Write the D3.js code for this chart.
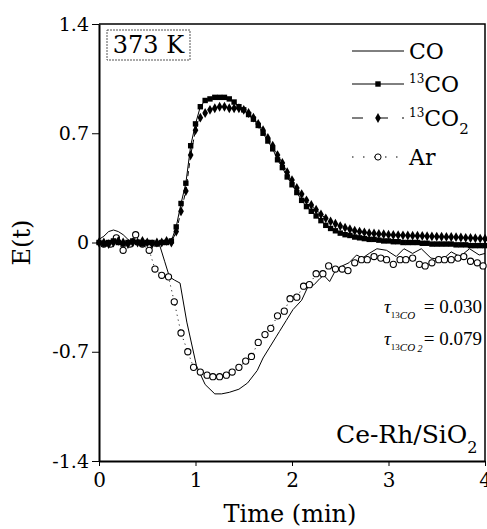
<!DOCTYPE html>
<html lang="en">
<head>
<meta charset="utf-8">
<title>E(t) | 373 K Ce-Rh/SiO2</title>
<style>
body { margin: 0; background: #fff; }
svg text { font-family: "DejaVu Serif", "Liberation Serif", serif; fill: #000; }
.axis path, .axis line { stroke: #000; }
</style>
<script src="https://d3js.org/d3.v7.min.js"></script>
</head>
<body>
<svg id="chart" width="487" height="529"></svg>
<script>
// ---- data ----
var xTicks = [0, 1, 2, 3, 4];
var yTicks = [1.4, 0.7, 0, -0.7, -1.4];
var yTickLabels = ["1.4", "0.7", "0", "-0.7", "-1.4"];

// 13CO and 13CO2 share a sampling grid (min)
var tIso = [0.00,0.05,0.10,0.15,0.20,0.25,0.30,0.35,0.40,0.45,0.50,0.55,0.60,0.65,0.70,0.75,
  0.80,0.85,0.90,0.95,1.00,1.05,1.10,1.15,1.20,1.25,1.30,1.35,1.40,1.45,1.50,1.55,1.60,1.65,
  1.70,1.75,1.80,1.85,1.90,1.95,2.00,2.05,2.10,2.15,2.20,2.25,2.30,2.35,2.40,2.45,2.50,2.55,
  2.60,2.65,2.70,2.75,2.80,2.85,2.90,2.95,3.00,3.05,3.10,3.15,3.20,3.25,3.30,3.35,3.40,3.45,
  3.50,3.55,3.60,3.65,3.70,3.75,3.80,3.85,3.90,3.95,4.00];

var co13 = [0.00,-0.01,0.00,0.01,0.00,-0.01,0.00,0.01,0.00,-0.01,0.00,0.00,-0.01,0.00,0.00,0.01,
  0.10,0.25,0.38,0.62,0.76,0.87,0.91,0.92,0.93,0.93,0.93,0.92,0.90,0.87,0.85,0.82,0.79,0.75,
  0.70,0.65,0.60,0.53,0.48,0.42,0.37,0.32,0.27,0.23,0.20,0.17,0.14,0.11,0.09,0.075,0.06,0.05,
  0.045,0.035,0.03,0.025,0.02,0.02,0.015,0.01,0.01,0.005,0.005,0.00,0.00,0.00,0.00,-0.005,-0.005,-0.01,
  -0.01,-0.01,-0.01,-0.01,-0.015,-0.015,-0.015,-0.02,-0.02,-0.02,-0.02];

var co2_13 = [0.00,0.00,-0.01,0.00,0.01,0.00,-0.01,0.00,0.00,0.01,0.00,-0.01,0.00,0.00,0.01,0.00,
  0.07,0.20,0.33,0.56,0.72,0.80,0.83,0.85,0.86,0.87,0.87,0.86,0.86,0.86,0.85,0.83,0.80,0.76,
  0.72,0.67,0.62,0.56,0.51,0.45,0.40,0.35,0.31,0.27,0.24,0.21,0.18,0.155,0.135,0.12,0.105,0.095,
  0.085,0.075,0.07,0.065,0.06,0.058,0.055,0.053,0.05,0.048,0.047,0.046,0.045,0.044,0.043,0.042,0.04,0.039,
  0.038,0.037,0.036,0.035,0.034,0.032,0.03,0.029,0.027,0.025,0.024];

// CO trace (solid line)
var tCO = [0.00,0.05,0.10,0.15,0.20,0.25,0.30,0.35,0.40,0.50,0.60,0.63,0.68,0.73,0.78,0.84,0.91,
  1.01,1.10,1.20,1.27,1.35,1.45,1.54,1.64,1.70,1.77,1.84,1.87,1.94,2.01,2.10,2.16,2.23,2.29,2.33,
  2.39,2.45,2.52,2.59,2.67,2.73,2.80,2.88,2.98,3.08,3.16,3.25,3.34,3.44,3.56,3.65,3.74,3.84,3.94,4.00];
var coVals = [0.02,0.04,0.07,0.08,0.07,0.05,0.02,0.00,0.00,-0.005,-0.01,-0.02,-0.12,-0.22,-0.24,-0.26,-0.51,
  -0.79,-0.91,-0.97,-0.97,-0.96,-0.94,-0.90,-0.82,-0.74,-0.67,-0.60,-0.57,-0.50,-0.43,-0.37,-0.29,-0.27,-0.23,-0.21,
  -0.25,-0.18,-0.15,-0.13,-0.08,-0.10,-0.07,-0.04,-0.05,-0.09,-0.04,-0.07,-0.04,-0.10,-0.11,-0.06,-0.09,-0.04,-0.08,-0.07];

// Ar tracer (open circles)
var tAr = [0.05,0.12,0.18,0.25,0.32,0.38,0.45,0.52,0.58,0.65,0.72,0.78,0.85,0.92,0.98,1.05,1.12,1.18,
  1.25,1.32,1.38,1.45,1.52,1.58,1.65,1.72,1.78,1.85,1.92,1.98,2.05,2.12,2.18,2.25,2.32,2.38,2.45,2.52,
  2.58,2.65,2.72,2.78,2.85,2.92,2.98,3.05,3.12,3.18,3.25,3.32,3.38,3.45,3.52,3.58,3.65,3.72,3.78,3.85,3.92,3.98];
var arVals = [-0.01,-0.01,0.03,-0.05,-0.01,0.05,-0.01,-0.05,-0.17,-0.21,-0.22,-0.38,-0.58,-0.70,-0.80,-0.83,-0.85,-0.86,
  -0.86,-0.85,-0.83,-0.80,-0.76,-0.73,-0.64,-0.59,-0.55,-0.47,-0.44,-0.36,-0.35,-0.28,-0.27,-0.20,-0.20,-0.15,-0.17,-0.17,
  -0.18,-0.13,-0.11,-0.11,-0.09,-0.10,-0.11,-0.14,-0.11,-0.11,-0.10,-0.14,-0.15,-0.13,-0.11,-0.11,-0.11,-0.10,-0.09,-0.12,-0.13,-0.15];

// ---- layout ----
var svg = d3.select('#chart');
var mLeft = 99, mRight = 485, mTop = 24, mBottom = 461;

var x = d3.scaleLinear().domain([0, 4]).range([mLeft, mRight]);
var y = d3.scaleLinear().domain([-1.4, 1.4]).range([mBottom, mTop]);

function zip(ts, vs) {
  return ts.map(function(t, i) { return [t, vs[i]]; });
}
var line = d3.line().x(function(d) { return x(d[0]); }).y(function(d) { return y(d[1]); });

var plot = svg.append('g');

// frame (top and right)
plot.append('path')
  .attr('d', 'M' + mLeft + ',' + mTop + 'H' + mRight + 'V' + mBottom)
  .attr('fill', 'none').attr('stroke', '#000').attr('stroke-width', 1.5);

// CO solid thin line
plot.append('path').datum(zip(tCO, coVals))
  .attr('d', line).attr('fill', 'none').attr('stroke', '#000').attr('stroke-width', 1);

// Ar dotted line + open circles
var arData = zip(tAr, arVals);
plot.append('path').datum(arData)
  .attr('d', line).attr('fill', 'none').attr('stroke', '#000').attr('stroke-width', 1)
  .attr('stroke-dasharray', '1,4');
plot.selectAll('circle.ar').data(arData).enter().append('circle')
  .attr('class', 'ar')
  .attr('cx', function(d) { return x(d[0]); })
  .attr('cy', function(d) { return y(d[1]); })
  .attr('r', 3.1)
  .attr('fill', '#fff').attr('stroke', '#000').attr('stroke-width', 1.1);

// 13CO2 dashed line + diamonds
var c2Data = zip(tIso, co2_13);
plot.append('path').datum(c2Data)
  .attr('d', line).attr('fill', 'none').attr('stroke', '#000').attr('stroke-width', 1)
  .attr('stroke-dasharray', '5,3');
plot.selectAll('path.dia').data(c2Data).enter().append('path')
  .attr('class', 'dia')
  .attr('d', d3.symbol().type(d3.symbolDiamond).size(28))
  .attr('transform', function(d) { return 'translate(' + x(d[0]) + ',' + y(d[1]) + ')'; })
  .attr('fill', '#000');

// 13CO solid line + squares
var c13Data = zip(tIso, co13);
plot.append('path').datum(c13Data)
  .attr('d', line).attr('fill', 'none').attr('stroke', '#000').attr('stroke-width', 1);
plot.selectAll('rect.sq').data(c13Data).enter().append('rect')
  .attr('class', 'sq')
  .attr('x', function(d) { return x(d[0]) - 2.7; })
  .attr('y', function(d) { return y(d[1]) - 2.7; })
  .attr('width', 5.4).attr('height', 5.4)
  .attr('fill', '#000');

// axes
var xAxis = svg.append('g').attr('class', 'axis')
  .attr('transform', 'translate(0,' + mBottom + ')')
  .call(d3.axisBottom(x).tickValues(xTicks).tickFormat(d3.format('d')).tickSize(5).tickSizeOuter(0));
xAxis.select('.domain').attr('stroke-width', 2);
xAxis.selectAll('text').attr('font-size', 20).attr('y', 7).attr('dy', '0.95em');

var yAxis = svg.append('g').attr('class', 'axis')
  .attr('transform', 'translate(' + mLeft + ',0)')
  .call(d3.axisLeft(y).tickValues(yTicks)
    .tickFormat(function(d, i) { return yTickLabels[i]; }).tickSize(7).tickSizeOuter(0));
yAxis.select('.domain').attr('stroke-width', 2);
yAxis.selectAll('text').attr('font-size', 19).attr('x', -10);
svg.selectAll('.axis text').style('font-family', '"DejaVu Serif", serif').attr('fill', '#000');

svg.append('text').attr('x', 290).attr('y', 522).attr('text-anchor', 'middle')
  .attr('font-size', 24).text('Time (min)');
svg.append('text').attr('transform', 'translate(30,' + y(0) + ') rotate(-90)')
  .attr('text-anchor', 'middle').attr('font-size', 24).text('E(t)');

// temperature box
svg.append('rect').attr('x', 107).attr('y', 30).attr('width', 83).attr('height', 30)
  .attr('fill', '#fff').attr('stroke', '#555').attr('stroke-width', 1)
  .attr('stroke-dasharray', '2,1');
svg.append('text').attr('x', 148.5).attr('y', 53).attr('text-anchor', 'middle')
  .attr('font-size', 24).text('373 K');

// legend
var legendNames = ['CO', '13CO', '13CO2', 'Ar'];
var legendY = [51, 84, 118, 157];
var lg = svg.append('g');
legendNames.forEach(function(name, i) {
  var g = lg.append('g').attr('transform', 'translate(0,' + legendY[i] + ')');
  var dash = [null, null, '11,14', '1.5,9.5'][i];
  g.append('line').attr('x1', 352).attr('x2', 404).attr('y1', 0).attr('y2', 0)
    .attr('stroke', '#000').attr('stroke-width', 1)
    .attr('stroke-dasharray', dash);
  if (i === 1) g.append('rect').attr('x', 375.3).attr('y', -2.7).attr('width', 5.4).attr('height', 5.4).attr('fill', '#000');
  if (i === 2) g.append('path').attr('transform', 'translate(378,0)')
    .attr('d', d3.symbol().type(d3.symbolDiamond).size(28)).attr('fill', '#000');
  if (i === 3) g.append('circle').attr('cx', 378).attr('cy', 0).attr('r', 3.1)
    .attr('fill', '#fff').attr('stroke', '#000');
  var t = g.append('text').attr('x', 409).attr('y', 8).attr('font-size', 22);
  if (name === 'CO' || name === 'Ar') {
    t.text(name);
  } else {
    t.append('tspan').attr('font-size', 12).attr('dy', -9).text('13');
    t.append('tspan').attr('dy', 9).text('CO');
    if (name === '13CO2') t.append('tspan').attr('font-size', 15).attr('dy', 8).text('2');
  }
});

// time constants
function tau(yPos, sub2, value) {
  var t = svg.append('text').attr('x', 384).attr('y', yPos).attr('font-size', 19)
    .style('font-family', '"Liberation Serif", serif');
  t.append('tspan').attr('font-style', 'italic').text('τ');
  t.append('tspan').attr('font-size', 9).attr('dy', 5).text('13');
  t.append('tspan').attr('font-size', 11).attr('font-style', 'italic').attr('dy', 1).text('CO');
  if (sub2) t.append('tspan').attr('font-size', 10).attr('font-style', 'italic').attr('dy', 1).text(' 2');
  svg.append('text').attr('x', 482).attr('y', yPos).attr('text-anchor', 'end')
    .style('font-family', '"Liberation Serif", serif')
    .attr('font-size', 19).text('= ' + value);
}
tau(313, false, '0.030');
tau(345, true, '0.079');

// catalyst label
var cat = svg.append('text').attr('x', 336).attr('y', 443).attr('font-size', 25);
cat.append('tspan').text('Ce-Rh/SiO');
cat.append('tspan').attr('font-size', 16).attr('dy', 10).text('2');
</script>
</body>
</html>
